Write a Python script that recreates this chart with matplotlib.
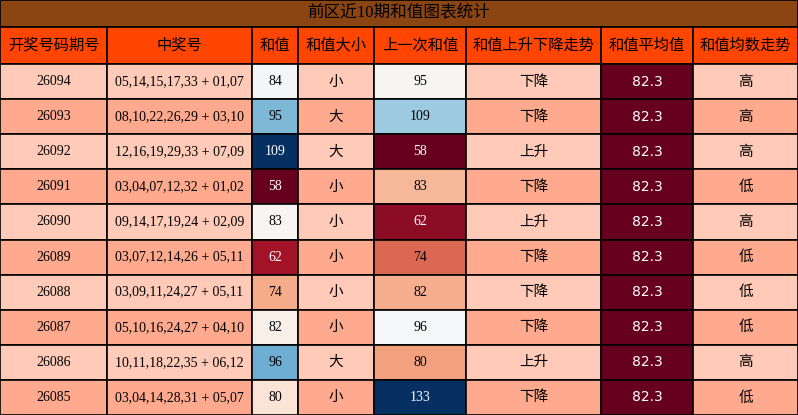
import numpy as np
import matplotlib.pyplot as plt
import matplotlib.colors as mcolors
from matplotlib.patches import Rectangle

title = '前区近10期和值图表统计'
headers = ['开奖号码期号', '中奖号', '和值', '和值大小', '上一次和值',
           '和值上升下降走势', '和值平均值', '和值均数走势']
issues = ['26094', '26093', '26092', '26091', '26090', '26089', '26088', '26087', '26086', '26085']
numbers = ['05,14,15,17,33 + 01,07', '08,10,22,26,29 + 03,10', '12,16,19,29,33 + 07,09',
           '03,04,07,12,32 + 01,02', '09,14,17,19,24 + 02,09', '03,07,12,14,26 + 05,11',
           '03,09,11,24,27 + 05,11', '05,10,16,24,27 + 04,10', '10,11,18,22,35 + 06,12',
           '03,04,14,28,31 + 05,07']
sums = [84, 95, 109, 58, 83, 62, 74, 82, 96, 80]
sizes = ['小', '大', '大', '小', '小', '小', '小', '小', '大', '小']
prev_sums = [95, 109, 58, 83, 62, 74, 82, 96, 80, 133]
trend = ['下降', '下降', '上升', '下降', '上升', '下降', '下降', '下降', '上升', '下降']
avg = [82.3] * 10
avg_trend = ['高', '高', '高', '低', '高', '低', '低', '低', '高', '低']

W, H = 798, 415
edges = [0, 107, 252, 298, 374, 466, 601, 693, 798]
title_h, head_h = 27, 37
row_h = (H - title_h - head_h) / len(issues)

cjk = ['Noto Sans CJK SC', 'DejaVu Sans']
serif = ['Liberation Serif', 'Noto Sans CJK SC']
cmap = plt.get_cmap('RdBu')
row_bg = ['#ffcbb8', '#ffaa8e']

fig = plt.figure(figsize=(W / 100, H / 100), dpi=100)
ax = fig.add_axes([0, 0, 1, 1])
ax.set_xlim(0, W)
ax.set_ylim(H, 0)
ax.axis('off')


def cell(x0, x1, y0, y1, color, text, tcolor='black', family=cjk, size=10.5):
    ax.add_patch(Rectangle((x0, y0), x1 - x0, y1 - y0, facecolor=color,
                           edgecolor='black', linewidth=1.2))
    ax.text((x0 + x1) / 2, (y0 + y1) / 2, text, ha='center', va='center',
            color=tcolor, family=family, fontsize=size)


def text_color(rgba):
    r, g, b = rgba[:3]
    return 'white' if 0.299 * r + 0.587 * g + 0.114 * b < 0.5 else 'black'


cell(0, W, 0, title_h, '#8b4513', title, family=serif, size=12)
for j, h in enumerate(headers):
    cell(edges[j], edges[j + 1], title_h, title_h + head_h, '#ff4500', h, size=11)

norm_s = mcolors.Normalize(min(sums), max(sums))
norm_p = mcolors.Normalize(min(prev_sums), max(prev_sums))
for i in range(len(issues)):
    y0 = title_h + head_h + i * row_h
    y1 = y0 + row_h
    bg = row_bg[i % 2]
    e = edges
    cell(e[0], e[1], y0, y1, bg, issues[i], family=serif, size=10)
    cell(e[1], e[2], y0, y1, bg, numbers[i], family=serif, size=10)
    c = cmap(norm_s(sums[i]))
    cell(e[2], e[3], y0, y1, c, str(sums[i]), text_color(c), family=serif, size=10)
    cell(e[3], e[4], y0, y1, bg, sizes[i])
    c = cmap(norm_p(prev_sums[i]))
    cell(e[4], e[5], y0, y1, c, str(prev_sums[i]), text_color(c), family=serif, size=10)
    cell(e[5], e[6], y0, y1, bg, trend[i])
    cell(e[6], e[7], y0, y1, cmap(0.0), '%.1f' % avg[i], 'white', family=['DejaVu Sans'], size=10)
    cell(e[7], e[8], y0, y1, bg, avg_trend[i])

fig.savefig('out.png', dpi=100)
